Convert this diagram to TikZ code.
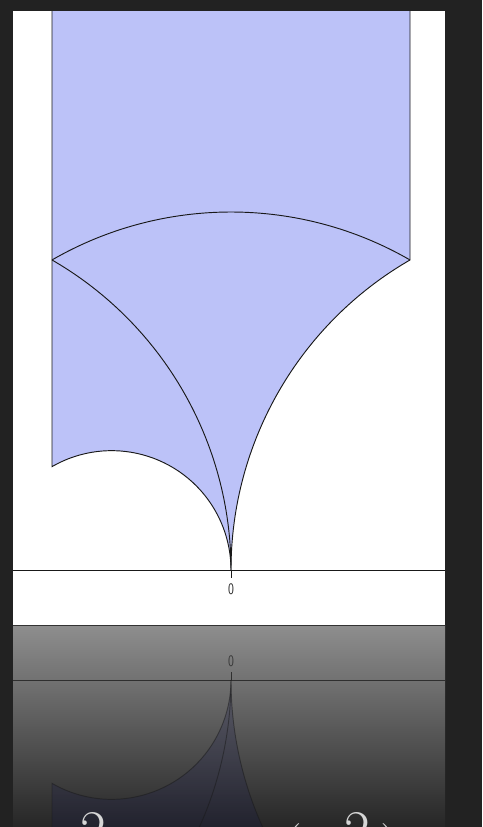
\documentclass[tikz,border=0pt]{standalone}
\usepackage{graphicx}
\usepackage{tikz}

\definecolor{pagebg}{HTML}{222222}
\definecolor{domainblue}{HTML}{BCC2F8}
\definecolor{reflblue}{RGB}{20,22,75}
\definecolor{capgray}{HTML}{D6D6D6}
\definecolor{reflTop}{HTML}{8E8E8E}
\definecolor{reflMid}{HTML}{474747}
\definecolor{reflBot}{HTML}{262626}

\newcommand{\gammadomain}[1]{%
  \fill[region] (-0.5,1.561) -- (-0.5,{sqrt(3)/6})
      arc[start angle=120, end angle=0, radius=1/3]
      arc[start angle=180, end angle=120, radius=1] -- (0.5,1.561) -- cycle;
  \draw[edge] (-0.5,1.561) -- (-0.5,{sqrt(3)/6})
      arc[start angle=120, end angle=0, radius=1/3]
      arc[start angle=180, end angle=120, radius=1] -- (0.5,1.561);
  \draw[edge] (-0.5,{sqrt(3)/2}) arc[start angle=120, end angle=60, radius=1];
  \draw[edge] (-0.5,{sqrt(3)/2}) arc[start angle=60, end angle=0, radius=1];
  \draw[axis] (-0.609,0) -- (0.598,0);
  \draw[axis] (0,0) -- (0,-0.022);
  \node[tick] (#1zero) at (0,-0.053) {\scalebox{0.75}[1]{0}};
}

\begin{document}
\begin{tikzpicture}[
        x=0.75pt, y=-0.75pt,
        region/.style  = {fill=domainblue},
        edge/.style    = {draw=black!90, line width=0.7pt},
        axis/.style    = {draw=black!90, line width=0.7pt},
        tick/.style    = {font=\sffamily\fontsize{12}{12}\selectfont, text=black!85, inner sep=0pt},
        caption/.style = {font=\fontsize{42}{42}\selectfont, text=capgray, anchor=base, inner sep=0pt}
    ]
        \useasboundingbox[fill=pagebg] (0,0) rectangle (482,827);
        \fill[white] (13,11) rectangle (445,625);
        \begin{scope}[shift={(231,570)}, x=268.5pt, y=268.5pt]
            \gammadomain{main}
        \end{scope}
        \shade[top color=reflTop, middle color=reflMid, bottom color=reflBot] (13,625) rectangle (445,827);
        \begin{scope}
            \clip (13,626) rectangle (445,827);
            \begin{scope}[shift={(231,680)}, x=268.5pt, y=-268.5pt,
                    region/.style = {fill=reflblue, fill opacity=0.22},
                    edge/.style   = {draw=black!90, draw opacity=0.5, line width=0.7pt},
                    axis/.style   = {draw=black!90, draw opacity=0.75, line width=0.7pt},
                    tick/.style   = {font=\sffamily\fontsize{12}{12}\selectfont, text=black!85, text opacity=0.8, inner sep=0pt}]
                \gammadomain{refl}
            \end{scope}
        \end{scope}
        \draw[black!80, line width=0.75pt] (13,625) -- (445,625);
        \node[caption] (capA) at (93.5,849) {2};
        \node[caption] (capB) at (292,865)  {(};
        \node[caption] (capC) at (357,849)  {2};
        \node[caption] (capD) at (390,865)  {)};
    \end{tikzpicture}
\end{document}
